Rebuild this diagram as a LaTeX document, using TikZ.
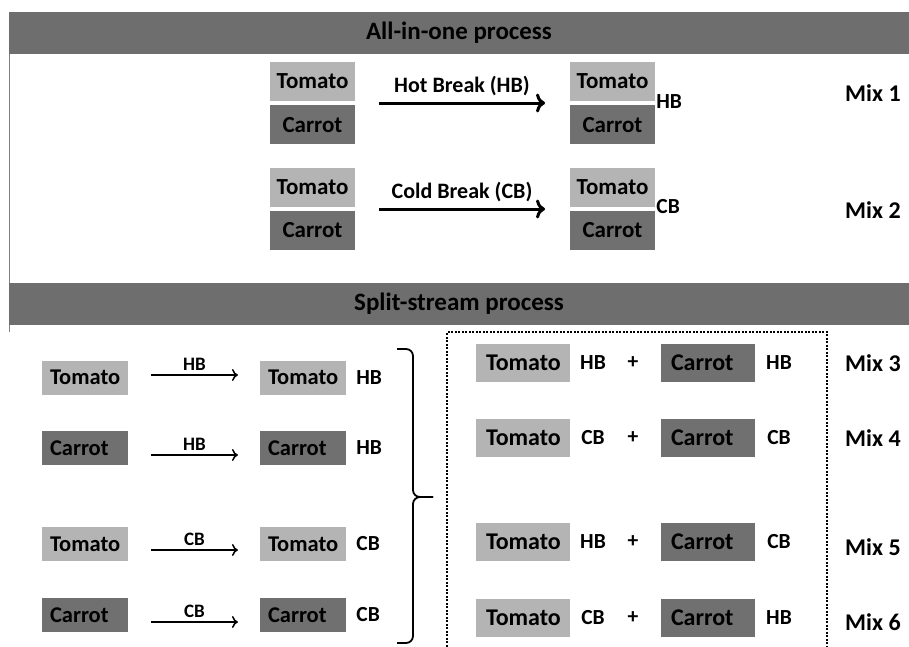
\documentclass[tikz,border=0pt]{standalone}
\usepackage{fontspec}
\setmainfont{Carlito}
\usetikzlibrary{positioning,arrows.meta}
\definecolor{tomatogray}{RGB}{180,180,180}
\definecolor{carrotgray}{RGB}{112,112,112}
\definecolor{bandgray}{RGB}{110,110,110}
\tikzset{
  band/.style={fill=bandgray,minimum width=900pt,minimum height=42pt,inner sep=0pt,font=\fontsize{25}{28}\selectfont\bfseries},
  tomato/.style={fill=tomatogray,minimum width=85pt,minimum height=39pt,inner sep=0pt,font=\fontsize{23}{26}\selectfont\bfseries},
  carrot/.style={tomato,fill=carrotgray},
  ltomato/.style={fill=tomatogray,minimum width=86pt,minimum height=34pt,inner xsep=8pt,inner ysep=0pt,text width=70pt,align=left,font=\fontsize{22.5}{25}\selectfont\bfseries},
  lcarrot/.style={ltomato,fill=carrotgray},
  mtomato/.style={ltomato,minimum width=94pt,minimum height=38pt,inner xsep=10pt,text width=74pt,font=\fontsize{24}{27}\selectfont\bfseries},
  mcarrot/.style={mtomato,fill=carrotgray},
  lbl/.style={inner sep=1pt,font=\fontsize{21.5}{24}\selectfont\bfseries},
  smalllbl/.style={inner sep=1pt,font=\fontsize{19}{22}\selectfont\bfseries},
  mixlbl/.style={anchor=west,inner sep=0pt,font=\fontsize{24}{28}\selectfont\bfseries},
  bigarrow/.style={line width=3pt,-{To[length=9pt,width=19pt,line width=3pt]}},
  thinarrow/.style={line width=1.5pt,-{To[length=6pt,width=12pt,line width=1.5pt]}},
  bracket/.style={line width=1.8pt,rounded corners=7pt}
}
\begin{document}
\begin{tikzpicture}[x=1pt,y=-1pt]
\useasboundingbox (0,0) rectangle (909,646);
% frame and headers
\draw[gray,line width=1pt] (9,12) -- (9,332);
\node[band] (allinone) at (459,33) {All-in-one process};
\node[band] (split) at (459,303.5) {Split-stream process};
% all-in-one, mix 1
\node[tomato] (t1) at (312.5,81.5) {Tomato};
\node[carrot,below=4pt of t1] (c1) {Carrot};
\node[tomato] (t1hb) at (612.5,81.5) {Tomato};
\node[carrot,below=4pt of t1hb] (c1hb) {Carrot};
\coordinate (a1s) at (379,103);
\coordinate (a1e) at (545,103);
\draw[bigarrow] (a1s) -- (a1e) node[midway,above=5pt,lbl,font=\fontsize{22}{25}\selectfont\bfseries]{Hot Break (HB)};
\node[lbl,anchor=west] (hb1) at (t1hb.south east) {HB};
\node[mixlbl] (mix1) at (845,93) {Mix 1};
% all-in-one, mix 2
\node[tomato] (t2) at (312.5,187) {Tomato};
\node[carrot,below=4pt of t2] (c2) {Carrot};
\node[tomato] (t2cb) at (612.5,187) {Tomato};
\node[carrot,below=4pt of t2cb] (c2cb) {Carrot};
\coordinate (a2s) at (379,209);
\coordinate (a2e) at (545,209);
\draw[bigarrow] (a2s) -- (a2e) node[midway,above=5pt,lbl,font=\fontsize{22}{25}\selectfont\bfseries]{Cold Break (CB)};
\node[lbl,anchor=west] (cb2) at (t2cb.south east) {CB};
\node[mixlbl] (mix2) at (845,210) {Mix 2};
% split-stream, single streams
\foreach \y/\ay/\kind/\name/\brk/\i in {377.5/375/ltomato/Tomato/HB/1,448/455/lcarrot/Carrot/HB/2,544/550/ltomato/Tomato/CB/3,615/622/lcarrot/Carrot/CB/4}{
  \node[\kind] (in\i) at (85,\y) {\name};
  \node[\kind] (out\i) at (303,\y) {\name};
  \node[lbl,right=9pt of out\i] (outlbl\i) {\brk};
  \coordinate (s\i) at (151,\ay);
  \coordinate (e\i) at (238,\ay);
  \draw[thinarrow] (s\i) -- (e\i) node[midway,above=3pt,smalllbl]{\brk};
}
\coordinate (bracetop) at (397,349);
\coordinate (bracetip) at (433,497);
\coordinate (bracebot) at (397,643);
\draw[bracket] (bracetop) -- (413,349) -- (413,497) -- (bracetip);
\draw[bracket] (bracetip) -- (413,497) -- (413,643) -- (bracebot);
% split-stream, mixes
\draw[line width=2pt,dash pattern=on 2pt off 1.5pt] (447,650) -- (447,332) -- (827,332) -- (827,650);
\foreach \y/\tb/\cb/\i/\my in {363/HB/HB/3/363,438/CB/CB/4/438,542/HB/CB/5/547,618/CB/HB/6/622}{
  \node[mtomato] (mt\i) at (523,\y) {Tomato};
  \node[lbl] (mtl\i) at (593,\y) {\tb};
  \node[lbl] (plus\i) at (633,\y) {+};
  \node[mcarrot] (mc\i) at (708,\y) {Carrot};
  \node[lbl] (mcl\i) at (779,\y) {\cb};
  \node[mixlbl] (mix\i) at (845,\my) {Mix \i};
}
\end{tikzpicture}
\end{document}
